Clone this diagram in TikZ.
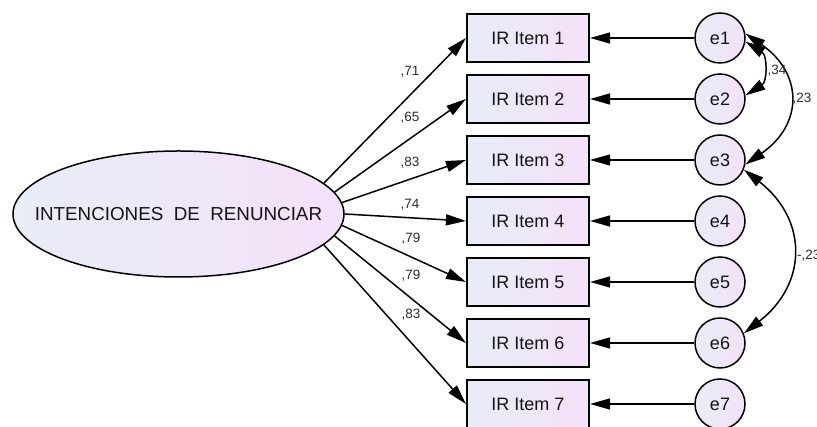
\documentclass[tikz,border=0pt]{standalone}
\usepackage{fontspec}
\setmainfont{Liberation Sans}
\usetikzlibrary{arrows.meta,shapes.geometric}
\definecolor{fillL}{RGB}{232,237,246}
\definecolor{fillR}{RGB}{244,225,250}
\definecolor{txt}{RGB}{20,20,20}
\definecolor{lbl}{RGB}{45,45,45}
\begin{document}
\begin{tikzpicture}[x=1pt,y=1pt,
  obs/.style={draw=black, line width=1.6pt, left color=fillL, right color=fillR,
    minimum width=122.5pt, minimum height=48.5pt, inner sep=0pt,
    font=\fontsize{18}{20}\selectfont, text=txt},
  err/.style={circle, draw=black, line width=1.5pt, left color=fillL, right color=fillR,
    minimum size=50pt, inner sep=0pt, font=\fontsize{18}{20}\selectfont, text=txt},
  lat/.style={ellipse, draw=black, line width=1.5pt, left color=fillL, right color=fillR,
    minimum width=331pt, minimum height=126pt, inner sep=0pt,
    font=\fontsize{18.8}{20}\selectfont, text=txt},
  arr/.style={line width=1.5pt, -{Triangle[length=20pt,width=11pt]}},
  cov/.style={line width=1.5pt, {Triangle[length=20pt,width=11pt]}-{Triangle[length=20pt,width=11pt]}},
  lab/.style={font=\fontsize{13.5}{15}\selectfont, text=lbl, inner sep=0pt}
]
\useasboundingbox (0,0) rectangle (817,427);

\node[lat] (E) at (178.5,213) {\makebox[0pt]{INTENCIONES\ \ DE\ \ RENUNCIAR}};

\foreach \i/\y in {1/389,2/328,3/267,4/206,5/145,6/84,7/23}{
  \node[obs] (b\i) at (528,\y) {IR Item \i};
  \node[err] (e\i) at (720,\y) {e\i};
  \draw[arr] (e\i) -- (b\i);
}

\draw[arr] (E.12)  -- (b1.west);
\draw[arr] (E.8)   -- (b2.west);
\draw[arr] (E.4)   -- (b3.west);
\draw[arr] (E.0)   -- (b4.west);
\draw[arr] (E.-4)  -- (b5.west);
\draw[arr] (E.-8)  -- (b6.west);
\draw[arr] (E.-12) -- (b7.west);

\node[lab] (l1) at (410,355) {,71};
\node[lab] (l2) at (410,309) {,65};
\node[lab] (l3) at (410,264) {,83};
\node[lab] (l4) at (410,222) {,74};
\node[lab] (l5) at (411,188) {,79};
\node[lab] (l6) at (411,151) {,79};
\node[lab] (l7) at (411,112) {,83};

\draw[cov] (e1.-8) .. controls +(22,-14) and +(22,14) .. (e2.8);
\draw[cov] (e1.10) .. controls +(58,-40) and +(58,40) .. (e3.-10);
\draw[cov] (e3.-22) .. controls +(64,-50) and +(64,50) .. (e6.22);

\node[lab] (c12) at (777,356) {,34};
\node[lab] (c13) at (802,328) {,23};
\node[lab, anchor=west] (c36) at (797,171) {-,23};
\end{tikzpicture}
\end{document}
